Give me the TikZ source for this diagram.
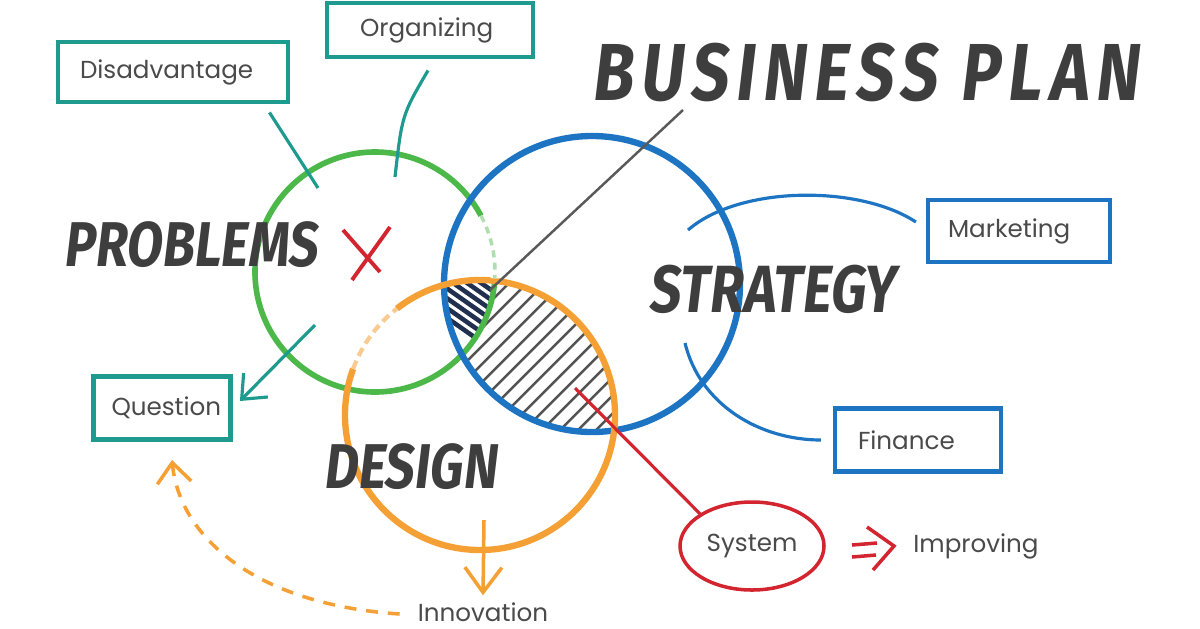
\documentclass[tikz,border=0pt]{standalone}
\usepackage{fontspec}
\setmainfont{Poppins}
\newfontfamily\brushfont[FakeStretch=0.82,FakeSlant=0.12]{Fira Sans}
\newfontfamily\titlefont[FakeStretch=0.82,FakeSlant=0.12,LetterSpace=9]{Fira Sans}
\usetikzlibrary{arrows.meta,shapes.geometric}

\definecolor{tealc}{HTML}{1E9A8E}
\definecolor{greenc}{HTML}{4DB84A}
\definecolor{bluec}{HTML}{1C74C2}
\definecolor{orangec}{HTML}{F4A035}
\definecolor{redc}{HTML}{D3252F}
\definecolor{navyc}{HTML}{22304F}
\definecolor{inkc}{HTML}{3E3E3E}
\definecolor{labelc}{HTML}{4A4A4A}

\tikzset{
  tealbox/.style={draw=tealc, line width=1.4pt, inner xsep=2.2mm, align=left,
    font=\fontsize{7}{8}\selectfont, text=labelc},
  bluebox/.style={tealbox, draw=bluec, line width=1.2pt},
  bigword/.style={font=\brushfont\bfseries\fontsize{18}{20}\selectfont, text=inkc},
  plainlabel/.style={font=\fontsize{7}{8}\selectfont, text=labelc, inner sep=1pt},
  barb/.style={-{Straight Barb[length=2mm,width=3.4mm]}},
  hatchline/.style={gray!65!black, line width=0.7pt},
}

\begin{document}
\begin{tikzpicture}[x=0.1mm, y=-0.1mm]
\useasboundingbox (0,0) rectangle (1200,628);
\fill[white] (0,0) rectangle (1200,628);

% circle centres
\coordinate (gc) at (375,272);
\coordinate (bc) at (592,284);
\coordinate (oc) at (480,415);

% hatched overlap
\begin{scope}
  \clip (bc) circle (148);
  \clip (oc) circle (135);
  \foreach \c in {720,738,...,1100}
    \draw[hatchline] (\c-500,500) -- (\c-200,200);
  \clip (gc) circle (120);
  \fill[white] (400,250) rectangle (560,380);
  \foreach \d in {100,114,...,240}
    \draw[navyc, line width=1.3pt] (\d+250,250) -- (\d+400,355);
\end{scope}

% circles
\draw[greenc, line width=1.6pt] (gc) circle (120);
\draw[bluec, line width=1.8pt] (bc) circle (148);
\draw[orangec, line width=1.8pt] (oc) circle (135);
% faded parts
\draw[white, line width=2.4pt] (gc) ++(-28:120) arc[start angle=-28, end angle=3, radius=120];
\draw[greenc!45, line width=1pt, dash pattern=on 2pt off 1.5pt] (gc) ++(-28:120) arc[start angle=-28, end angle=3, radius=120];
\draw[white, line width=2.4pt] (oc) ++(-160:135) arc[start angle=-160, end angle=-128, radius=135];
\draw[orangec!55, line width=1.2pt, dash pattern=on 2.5pt off 1.5pt] (oc) ++(-160:135) arc[start angle=-160, end angle=-128, radius=135];

% words
\node[bigword] (problems) at (190,245) {PROBLEMS};
\node[bigword, font=\brushfont\bfseries\fontsize{19}{21}\selectfont] (strategy) at (772,289) {STRATEGY};
\node[bigword] (design) at (410,467) {DESIGN};
\node[bigword, font=\titlefont\bfseries\fontsize{23}{26}\selectfont] (title) at (865,72) {BUSINESS PLAN};

% red cross
\draw[redc, line width=1.1pt] (343,230) -- (380,272) (390,227) -- (352,280);

% boxes
\node[tealbox, text width=18.6mm, minimum height=6mm] (dis) at (173,72) {Disadvantage};
\node[tealbox, inner xsep=3.3mm, text width=14mm, minimum height=5.4mm] (org) at (430,30) {Organizing};
\node[tealbox, inner xsep=1.8mm, text width=10.1mm, minimum height=6.3mm] (q) at (162,408) {Question};
\node[bluebox, inner xsep=2mm, text width=14.2mm, minimum height=6.2mm] (mk) at (1019,231) {Marketing};
\node[bluebox, inner xsep=2.3mm, text width=12mm, minimum height=6.3mm] (fn) at (918,440) {Finance};

\node[draw=redc, line width=1pt, ellipse, minimum width=14.4mm, minimum height=8.8mm,
  plainlabel] (sys) at (752,546) {System};
\node[plainlabel] (imp) at (976,546) {Improving};
\node[plainlabel] (innov) at (483,612) {Innovation};

% connectors
\coordinate (bp) at (490,290);
\coordinate (bptip) at (683,110);
\draw[gray!70!black, line width=0.7pt] (bp) -- (bptip);

\coordinate (disend) at (318,188);
\draw[tealc, line width=0.9pt] ([xshift=-2.1mm,yshift=-0.8mm]dis.south east) -- (disend);
\coordinate (orgend) at (395,177);
\draw[tealc, line width=0.9pt] ([xshift=-0.2mm,yshift=-1.1mm]org.south) .. controls (402,115) .. (orgend);
\coordinate (qstart) at (315,325);
\draw[tealc, line width=0.9pt, barb] (qstart) -- ([xshift=0.7mm,yshift=0.7mm]q.east);

\coordinate (mkstart) at (688,230);
\draw[bluec, line width=0.9pt] (mkstart) .. controls (740,185) and (860,185) .. ([xshift=-1mm,yshift=0.9mm]mk.west);
\coordinate (fnstart) at (685,343);
\draw[bluec, line width=0.9pt] (fnstart) .. controls (700,405) and (760,440) .. ([xshift=-1.2mm]fn.west);

\coordinate (sysstart) at (575,388);
\draw[redc, line width=0.9pt] (sysstart) -- (sys.north west);
\draw[redc, line width=1pt] (852,545) -- (877,543) (852,557) -- (876,555)
  (867,527) -- (894,546) -- (873,570);

\coordinate (innovstart) at (484,520);
\draw[orangec, line width=1pt, -{Straight Barb[length=2.5mm,width=3.7mm]}] (innovstart) -- ([yshift=0.3mm]innov.north);
\draw[orangec, line width=1pt, dash pattern=on 3.4pt off 2.8pt, barb]
  ([xshift=-1.4mm,yshift=-0.2mm]innov.west) .. controls (260,605) and (180,540) .. ([xshift=1mm,yshift=-1.8mm]q.south);
\end{tikzpicture}
\end{document}
